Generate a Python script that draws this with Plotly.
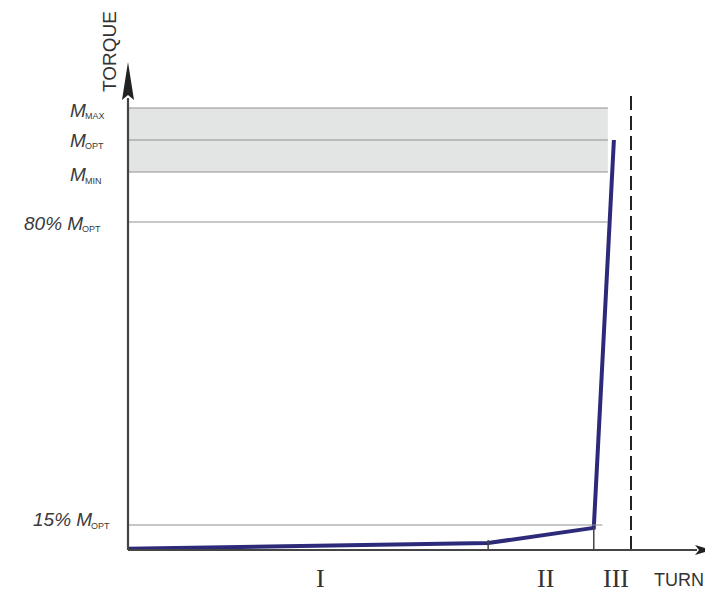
import plotly.graph_objects as go

# ---- data (schematic units) ----
level_names = ["M_MAX", "M_OPT", "M_MIN", "80% M_OPT", "15% M_OPT"]
level_values = [1.078, 1.0, 0.922, 0.8, 0.061]
level_main = ["M", "M", "M", "80% M", "15% M"]
level_sub = ["MAX", "OPT", "MIN", "OPT", "OPT"]
curve_turn = [0.0, 71.6, 92.6, 96.6]
curve_torque = [0.003, 0.017, 0.054, 1.0]
phase_labels = ["I", "II", "III"]
phase_label_x = [38.2, 83.1, 97.0]
phase_bounds = [71.6, 92.6, 100.0]   # end of I, end of II, limit (dashed)
band_end = 95.4
low_line_end = 94.3

# ---- pixel mapping (page has an 8px body margin) ----
PAGE_W, PAGE_H = 713, 593
OFF = 8
W, H = PAGE_W - OFF, PAGE_H - OFF
X0PX, Y0PX = 128, 550          # origin in page pixels
KX, KY = 5.03, 410.0
x_range = [-(X0PX - OFF) / KX, (PAGE_W - X0PX) / KX]
y_range = [-(PAGE_H - Y0PX) / KY, (Y0PX - OFF) / KY]
dx = lambda px: px / KX
dy = lambda px: px / KY
pxx = lambda p: (p - X0PX) / KX       # page px -> data x
pxy = lambda p: (Y0PX - p) / KY       # page px -> data y

AX = "#444444"
GRID = "#8f8f8f"
CURVE = "#2d2a7a"
TXT = "#3a3a3a"

fig = go.Figure()

shapes = []
shapes.append(dict(type="rect", xref="x", yref="y", x0=0, x1=band_end,
                   y0=level_values[2], y1=level_values[0],
                   fillcolor="#e3e5e4", line=dict(width=0), layer="below"))
for i, v in enumerate(level_values):
    x1 = low_line_end if i == 4 else band_end
    shapes.append(dict(type="line", xref="x", yref="y", x0=0, x1=x1, y0=v, y1=v,
                       line=dict(color=GRID, width=1.2)))
shapes.append(dict(type="line", xref="x", yref="y", x0=phase_bounds[2], x1=phase_bounds[2],
                   y0=0, y1=pxy(93), line=dict(color="#222222", width=2, dash="14px,6px")))
shapes.append(dict(type="line", xref="x", yref="y", x0=phase_bounds[0], x1=phase_bounds[0],
                   y0=0, y1=curve_torque[1] + dy(3), line=dict(color=AX, width=1.5)))
shapes.append(dict(type="line", xref="x", yref="y", x0=phase_bounds[1], x1=phase_bounds[1],
                   y0=0, y1=curve_torque[2], line=dict(color=AX, width=1.5)))
y_tip, y_base = pxy(62), pxy(100)
x_tip, x_base = pxx(712), pxx(695)
shapes.append(dict(type="line", xref="x", yref="y", x0=0, x1=0, y0=0, y1=y_base + dy(2),
                   line=dict(color=AX, width=2.2)))
shapes.append(dict(type="line", xref="x", yref="y", x0=0, x1=x_base + dx(2), y0=0, y1=0,
                   line=dict(color=AX, width=2.2)))
shapes.append(dict(type="path", xref="x", yref="y",
                   path=f"M {-dx(6)},{y_base} L 0,{y_tip} L {dx(6)},{y_base} L 0,{y_base + dy(5)} Z",
                   fillcolor="#222222", line=dict(width=0)))
shapes.append(dict(type="path", xref="x", yref="y",
                   path=f"M {x_base},{dy(5)} L {x_tip},0 L {x_base},{-dy(5)} L {x_base + dx(4)},0 Z",
                   fillcolor="#222222", line=dict(width=0)))

fig.add_trace(go.Scatter(x=curve_turn, y=curve_torque, mode="lines",
                         line=dict(color=CURVE, width=4), hoverinfo="skip",
                         showlegend=False))

annotations = []
sub_start_px = [84, 84, 84, 81, 90]
label_y_offsets = [-2, 0, -3, -1, 5]
for main, sub, v, off, sx in zip(level_main, level_sub, level_values, label_y_offsets, sub_start_px):
    annotations.append(dict(x=pxx(sx + 4), y=v + dy(off), xref="x", yref="y",
                            text=f"<i>{main}</i>", showarrow=False,
                            xanchor="right", yanchor="middle",
                            font=dict(family="Liberation Sans", size=19, color=TXT)))
    annotations.append(dict(x=pxx(sx - 1), y=v + dy(off - 6), xref="x", yref="y",
                            text=sub, showarrow=False,
                            xanchor="left", yanchor="middle",
                            font=dict(family="Liberation Sans", size=9, color=TXT)))
for lab, px in zip(phase_labels, phase_label_x):
    annotations.append(dict(x=px, y=pxy(578), xref="x", yref="y", text=lab,
                            showarrow=False, xanchor="center", yanchor="middle",
                            font=dict(family="Liberation Serif", size=26, color="#333333")))
annotations.append(dict(x=pxx(679), y=pxy(580), xref="x", yref="y", text="TURN",
                        showarrow=False, xanchor="center", yanchor="middle",
                        font=dict(family="Liberation Sans", size=18, color="#333333")))
annotations.append(dict(x=pxx(109), y=pxy(52), xref="x", yref="y", text="TORQUE",
                        textangle=-90, showarrow=False, xanchor="center", yanchor="middle",
                        font=dict(family="Liberation Sans", size=19, color="#333333")))

fig.update_layout(
    width=W, height=H, autosize=False,
    margin=dict(l=0, r=0, t=0, b=0),
    paper_bgcolor="white", plot_bgcolor="white",
    xaxis=dict(range=x_range, visible=False, fixedrange=True),
    yaxis=dict(range=y_range, visible=False, fixedrange=True),
    shapes=shapes, annotations=annotations,
)

fig.write_html("out.html")
